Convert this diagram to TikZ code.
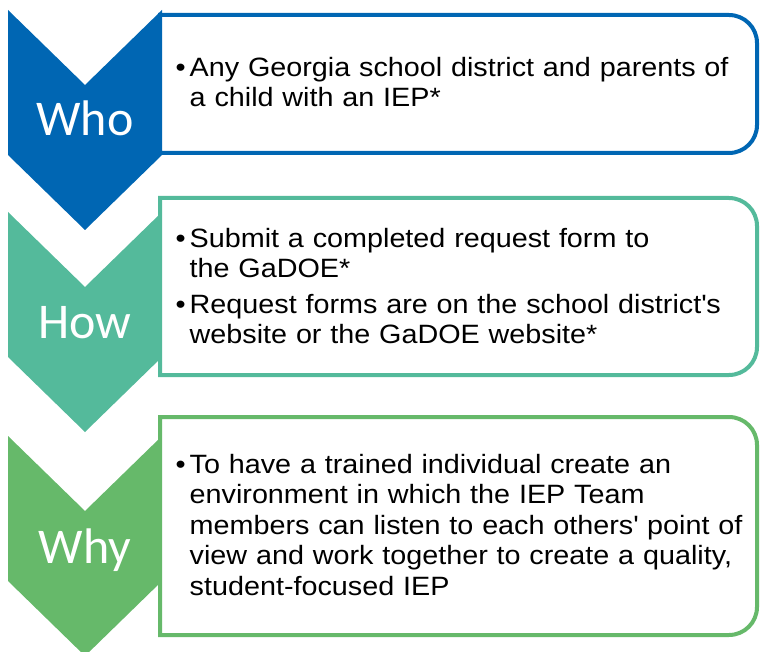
\documentclass[tikz,border=0pt]{standalone}
\usepackage{fontspec}
\setmainfont{Liberation Sans}[FakeStretch=1.085]
\newfontfamily\labelfont{Carlito}
\usetikzlibrary{positioning}
\definecolor{whoblue}{RGB}{0,102,179}
\definecolor{howteal}{RGB}{84,186,155}
\definecolor{whygreen}{RGB}{102,185,106}
\newcommand{\bul}{\hangindent=14pt\hangafter=1\noindent\makebox[14pt][l]{\textbullet}}

\begin{document}
\begin{tikzpicture}[x=1pt,y=-1pt,
	chev/.style={fill=#1},
	panel/.style={draw=#1,line width=4pt,fill=white},
	tag/.style={anchor=base,text=white,inner sep=0pt,font=\labelfont\fontsize{50}{60}\selectfont},
	body/.style={anchor=north west,inner sep=0pt,text width=575pt,font=\fontsize{26.5}{30.5}\selectfont}]
	\useasboundingbox (0,0) rectangle (760,652);
	% chevrons
	\fill[chev=whoblue] (8,10) -- (85,85) -- (162,10) -- (162,155) -- (85,230) -- (8,155) -- cycle;
	\fill[chev=howteal] (8,212) -- (85,287) -- (162,212) -- (162,357) -- (85,432) -- (8,357) -- cycle;
	\fill[chev=whygreen] (8,436) -- (85,511) -- (162,436) -- (162,581) -- (85,656) -- (8,581) -- cycle;
	% panels
	\draw[panel=whoblue] (160,15) -- (500,15) [rounded corners=28pt] -- (757,15) -- (757,153) -- (500,153) [sharp corners] -- (160,153) -- cycle;
	\draw[panel=howteal] (160,198) -- (500,198) [rounded corners=28pt] -- (757,198) -- (757,375) -- (500,375) [sharp corners] -- (160,375) -- cycle;
	\draw[panel=whygreen] (160,417) -- (500,417) [rounded corners=28pt] -- (757,417) -- (757,635) -- (500,635) [sharp corners] -- (160,635) -- cycle;
	% labels
	\node[tag] (who) at (85,136) {Who};
	\node[tag] (how) at (85,338) {How};
	\node[tag] (why) at (85,563) {Why};
	% texts
	\node[body] (who_t) at (175.5,54.65) {\raggedright\bul\strut Any Georgia school district and parents of\newline a child with an IEP*\par};
	\node[body] (how_t) at (175.5,225.65) {\raggedright\bul\strut Submit a completed request form to\newline the GaDOE*\par\vspace{5pt}\bul Request forms are on the school district\textquotesingle s\newline website or the GaDOE website*\par};
	\node[body] (why_t) at (175.5,451.65) {\raggedright\bul\strut To have a trained individual create an\newline environment in which the IEP Team\newline members can listen to each others\textquotesingle\ point of\newline view and work together to create a quality,\newline student-focused IEP\par};
\end{tikzpicture}
\end{document}
